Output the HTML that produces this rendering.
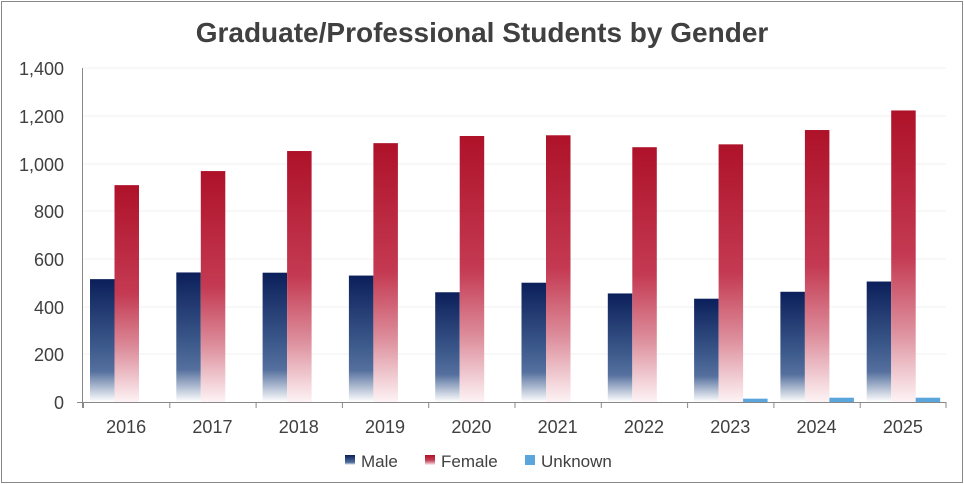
<!DOCTYPE html><html><head><style>body{margin:0;background:#fff}svg{display:block;font-family:"Liberation Sans",sans-serif}</style></head><body>
<svg width="964" height="484" viewBox="0 0 964 484">
<defs>
<linearGradient id="m" x1="0" y1="0" x2="0" y2="1"><stop offset="0" stop-color="#0b1f5a"/><stop offset="0.55" stop-color="#3d5a8c"/><stop offset="0.75" stop-color="#55709e"/><stop offset="1" stop-color="#ffffff"/></linearGradient>
<linearGradient id="f" x1="0" y1="0" x2="0" y2="1"><stop offset="0" stop-color="#ae1229"/><stop offset="0.5" stop-color="#c43a52"/><stop offset="0.75" stop-color="#dc8c9a"/><stop offset="1" stop-color="#fdf3f5"/></linearGradient>
</defs>
<rect x="1.5" y="1.5" width="961" height="481" fill="#fff" stroke="#888"/>
<text x="482" y="42" text-anchor="middle" font-size="28" font-weight="bold" fill="#404040">Graduate/Professional Students by Gender</text>
<g stroke="#f0f0f0"><line x1="83" x2="946" y1="68" y2="68"/><line x1="83" x2="946" y1="116" y2="116"/><line x1="83" x2="946" y1="164" y2="164"/><line x1="83" x2="946" y1="211" y2="211"/><line x1="83" x2="946" y1="259" y2="259"/><line x1="83" x2="946" y1="307" y2="307"/><line x1="83" x2="946" y1="354" y2="354"/></g>
<g font-size="18" fill="#404040" text-anchor="end"><text x="64" y="75">1,400</text><text x="64" y="123">1,200</text><text x="64" y="171">1,000</text><text x="64" y="218">800</text><text x="64" y="266">600</text><text x="64" y="314">400</text><text x="64" y="361">200</text><text x="64" y="409">0</text></g>
<g id="bars"></g>
<g stroke="#888"><line x1="82.5" y1="68" x2="82.5" y2="408"/><line x1="77" y1="402.5" x2="946" y2="402.5"/></g>
<g id="ticks" stroke="#888"></g>
<g id="xl" font-size="18" fill="#404040" text-anchor="middle"></g>
<g font-size="17" fill="#404040"><rect x="345" y="455" width="10" height="10" fill="url(#m)"/><text x="361" y="467">Male</text><rect x="425" y="455" width="10" height="10" fill="url(#f)"/><text x="441" y="467">Female</text><rect x="525" y="455" width="10" height="10" fill="#5aa6dc"/><text x="541" y="467">Unknown</text></g>
</svg>
<script>
var M=[515,543,542,530,460,500,455,433,462,505],F=[909,968,1052,1085,1115,1118,1068,1080,1140,1222],U=[0,0,0,0,0,0,0,14,18,18];
var s=334/1400,w=86.3,ns="http://www.w3.org/2000/svg",b=document.getElementById('bars'),t=document.getElementById('ticks'),xl=document.getElementById('xl');
function r(x,v,fill){if(!v)return;var h=v*s,e=document.createElementNS(ns,'rect');e.setAttribute('x',x);e.setAttribute('y',402-h);e.setAttribute('width',24.5);e.setAttribute('height',h);e.setAttribute('fill',fill);b.appendChild(e);}
for(var i=0;i<10;i++){var x0=83+i*w;r(x0+7,M[i],'url(#m)');r(x0+31.5,F[i],'url(#f)');r(x0+56,U[i],'#5aa6dc');
var l=document.createElementNS(ns,'line');l.setAttribute('x1',x0+.5);l.setAttribute('x2',x0+.5);l.setAttribute('y1',402);l.setAttribute('y2',408);t.appendChild(l);
var tx=document.createElementNS(ns,'text');tx.setAttribute('x',x0+w/2);tx.setAttribute('y',433);tx.textContent=2016+i;xl.appendChild(tx);}
var l=document.createElementNS(ns,'line');l.setAttribute('x1',946);l.setAttribute('x2',946);l.setAttribute('y1',402);l.setAttribute('y2',408);t.appendChild(l);
</script>
</body></html>
